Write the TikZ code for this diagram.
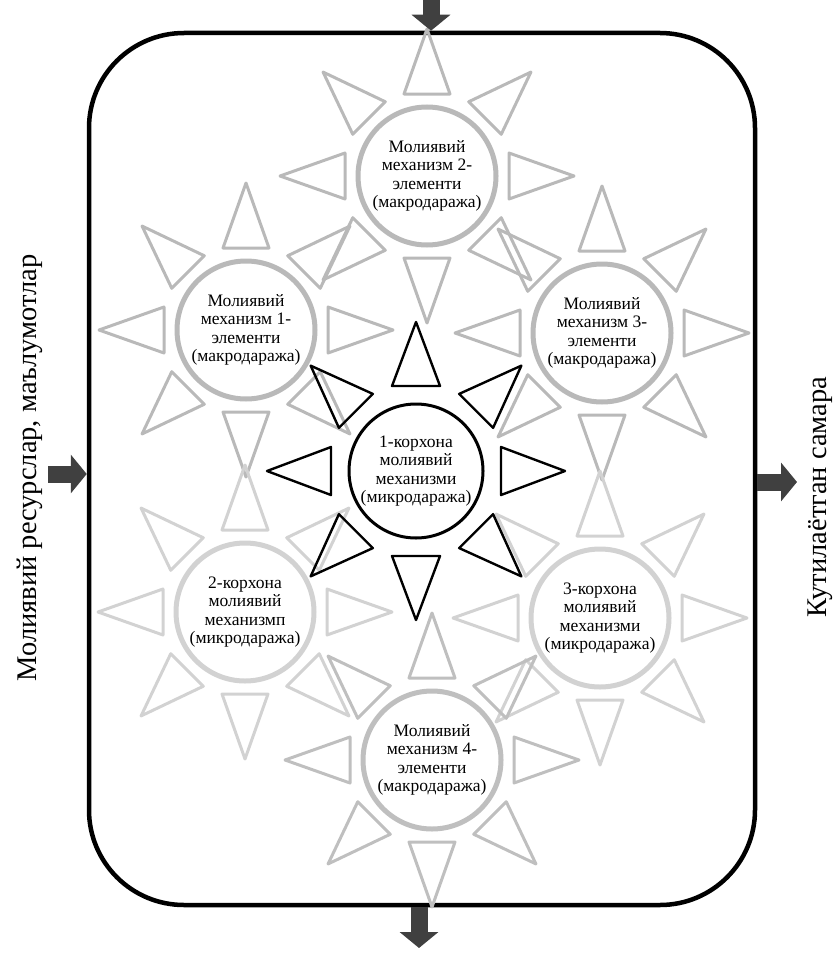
\documentclass[tikz,border=0pt]{standalone}
\usepackage{fontspec}
\setmainfont{Liberation Serif}
\usetikzlibrary{positioning, calc, arrows.meta}

\begin{document}
\begin{tikzpicture}[x=1pt, y=-1pt,
  frame/.style={draw, line width=4.5pt, rounded corners=95pt, minimum width=666pt, minimum height=872pt, inner sep=0pt},
  disc/.style={circle, draw=#1, fill=white, line width=5pt, minimum size=138pt, inner sep=0pt, align=center, font=\fontsize{17.5}{18.5}\selectfont},
  ray/.style={draw=#1, line width=3pt, line join=round},
  flow/.style={line width=17pt, black!75, -{Triangle[width=38pt, length=16pt]}},
  side/.style={rotate=90, font=\fontsize{28.5}{32}\selectfont}]

\useasboundingbox (0,0) rectangle (837,958);

%// frame
\node[frame] (box) at (422,469) {};

%// macro elements and enterprises
\foreach \cx/\cy/\nm/\col/\txt in {
  427/176/m2/gray!55/{Молиявий\\механизм 2-\\элементи\\(макродаража)},
  246/330/m1/gray!55/{Молиявий\\механизм 1-\\элементи\\(макродаража)},
  602/333/m3/gray!55/{Молиявий\\механизм 3-\\элементи\\(макродаража)},
  245/612/e2/gray!35/{2-корхона\\молиявий\\механизмп\\(микродаража)},
  600/618/e3/gray!35/{3-корхона\\молиявий\\механизми\\(микродаража)},
  432/760/m4/gray!50/{Молиявий\\механизм 4-\\элементи\\(макродаража)}}
{
  \node[disc=\col] (\nm) at (\cx,\cy) {\txt};
  \foreach \a in {0,45,...,315}
    \draw[ray=\col] ($(\nm)+(\a:82)+(\a+90:23)$) -- ($(\nm)+(\a:147)$) -- ($(\nm)+(\a:82)+(\a-90:23)$) -- cycle;
}

%// central enterprise
\node[disc=black, line width=3pt, minimum size=134pt] (e1) at (416,471) {1-корхона\\молиявий\\механизми\\(микродаража)};
\foreach \a in {0,45,...,315}
  \draw[ray=black, line width=2.4pt] ($(e1)+(\a:85)+(\a+90:24)$) -- ($(e1)+(\a:149)$) -- ($(e1)+(\a:85)+(\a-90:24)$) -- cycle;

%// inputs and outputs
\coordinate (src) at (48,474);
\coordinate (top) at (431,0);
\coordinate (res) at (797,482);
\coordinate (down) at (419,948);
\draw[flow] (src) -- (src -| box.west);
\draw[flow] (top) -- (top |- box.north);
\draw[flow] (res -| box.east) -- (res);
\draw[flow] (down |- box.south) -- (down);

\node[side] (inlbl) at (30,468) {Молиявий ресурслар, маълумотлар};
\node[side] (outlbl) at (820,497) {Кутилаётган самара};
\end{tikzpicture}
\end{document}
